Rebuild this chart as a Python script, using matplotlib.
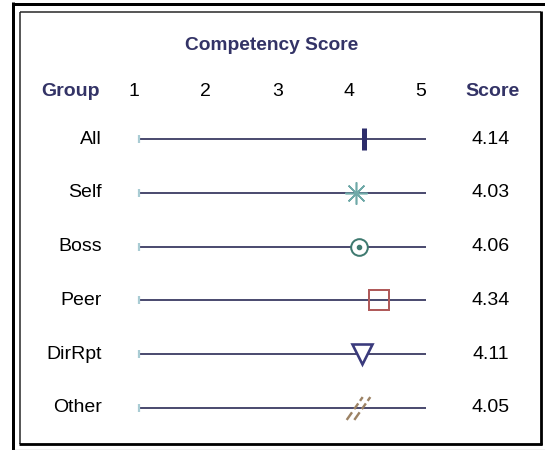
import numpy as np
import matplotlib
matplotlib.use("Agg")
import matplotlib.pyplot as plt
from matplotlib.path import Path
from matplotlib.lines import Line2D
from matplotlib.transforms import blended_transform_factory, offset_copy

# =============================================================================
# Data
# =============================================================================

groups = ["All", "Self", "Boss", "Peer", "DirRpt", "Other"]
scores = [4.14, 4.03, 4.06, 4.34, 4.11, 4.05]
tick_values = [1, 2, 3, 4, 5]
scale_min = 1
scale_max = 5

title_text = "Competency Score"
group_header = "Group"
score_header = "Score"

# =============================================================================
# Styling
# =============================================================================

W, H = 545, 450
navy = "#333366"
line_color = "#3a3a62"
cap_color = "#a9ccd4"
body_size = 14
title_size = 13.8

plt.rcParams["font.family"] = ["Liberation Sans", "DejaVu Sans"]

fig = plt.figure(figsize=(W / 100, H / 100), dpi=100)


def fx(px):
    return px / W


def fy(py):
    return 1 - py / H


def lw_px(px):
    return px * 0.72


# plot area: x from scale_min to scale_max, one row per group
row_top, row_bottom = 139, 408
x_left, x_right = 139, 426
ax = fig.add_axes([fx(x_left), fy(row_bottom), fx(x_right) - fx(x_left),
                   (row_bottom - row_top) / H])
ax.set_xlim(scale_min, scale_max)
ax.set_ylim(len(groups) - 1, 0)
ax.axis("off")

rows = np.arange(len(groups))

ax.hlines(rows, scale_min, scale_max, color=line_color,
          linewidth=lw_px(1.8), zorder=2, clip_on=False)
ax.plot([scale_min] * len(rows), rows, linestyle="none", marker="|",
        markersize=6, markeredgewidth=lw_px(2.2), color=cap_color,
        zorder=3, clip_on=False)

# custom hatched marker for "Other": two broken diagonal strokes
hatch_verts = []
hatch_codes = []
for shift in (-0.3, 0.3):
    for t0, t1 in ((-0.9, -0.3), (-0.05, 0.4), (0.6, 0.9)):
        hatch_verts += [(shift + 0.7 * t0, t0), (shift + 0.7 * t1, t1)]
        hatch_codes += [Path.MOVETO, Path.LINETO]
hatch_marker = Path(hatch_verts, hatch_codes)

marker_styles = [
    dict(marker="|", markersize=16, markeredgewidth=lw_px(5),
         color="#2d2d6b"),
    dict(marker=(8, 2, 0), markersize=16, markeredgewidth=lw_px(1.6),
         color="#6fa9a8"),
    dict(marker="o", markersize=12, markeredgewidth=lw_px(2),
         markerfacecolor="white", color="#3f7a70"),
    dict(marker="s", markersize=15, markeredgewidth=lw_px(2),
         markerfacecolor="none", color="#b05a5a"),
    dict(marker="v", markersize=15, markeredgewidth=lw_px(2.6),
         markerfacecolor="white", color="#3a3a7c"),
    dict(marker=hatch_marker, markersize=17, markeredgewidth=lw_px(2.4),
         color="#9c8264"),
]

for row, score, style in zip(rows, scores, marker_styles):
    ax.plot([score], [row], linestyle="none", zorder=4, clip_on=False,
            **style)

# centre dot of the Boss marker
ax.plot([scores[2]], [rows[2]], linestyle="none", marker="o", markersize=3,
        color="#3f7a70", zorder=5, clip_on=False)

# =============================================================================
# Text
# =============================================================================

row_trans = blended_transform_factory(fig.transFigure, ax.transData)
for row, group, score in zip(rows, groups, scores):
    ax.text(fx(102), row, group, transform=row_trans, ha="right",
            va="center", fontsize=body_size, color="black")
    ax.text(fx(491), row, f"{score:.2f}", transform=row_trans,
            ha="center", va="center", fontsize=body_size, color="black")

header_y = fy(91)
tick_trans = offset_copy(blended_transform_factory(ax.transData,
                                                   fig.transFigure),
                         fig=fig, x=-5, y=0, units="dots")
for value in tick_values:
    ax.text(value, header_y, str(value), transform=tick_trans,
            ha="center", va="center", fontsize=body_size, color="black")

fig.text(fx(70), header_y, group_header, ha="center", va="center",
         fontsize=body_size, fontweight="bold", color=navy)
fig.text(fx(492), header_y, score_header, ha="center", va="center",
         fontsize=body_size, fontweight="bold", color=navy)
fig.text(fx(272), fy(45), title_text, ha="center", va="center",
         fontsize=title_size, fontweight="bold", color=navy)

# =============================================================================
# Frames
# =============================================================================


def frame_line(x0, y0, x1, y1, width, color="black"):
    fig.add_artist(Line2D([fx(x0), fx(x1)], [fy(y0), fy(y1)],
                          transform=fig.transFigure, color=color,
                          linewidth=lw_px(width), solid_capstyle="butt"))


# outer double frame
frame_line(12.5, 3.5, 560, 3.5, 3)
frame_line(12.5, 2, 12.5, 460, 3)
frame_line(12.5, 449.5, 560, 449.5, 1.2, color="#777777")

# inner frame with darker right and bottom edges
frame_line(20, 11.5, 541, 11.5, 1.5, color="#222222")
frame_line(20, 11.5, 20, 444, 1.5, color="#222222")
frame_line(541, 10.5, 541, 445, 2.8)
frame_line(19, 444, 542, 444, 2.8)

fig.savefig("out.png", dpi=100)
